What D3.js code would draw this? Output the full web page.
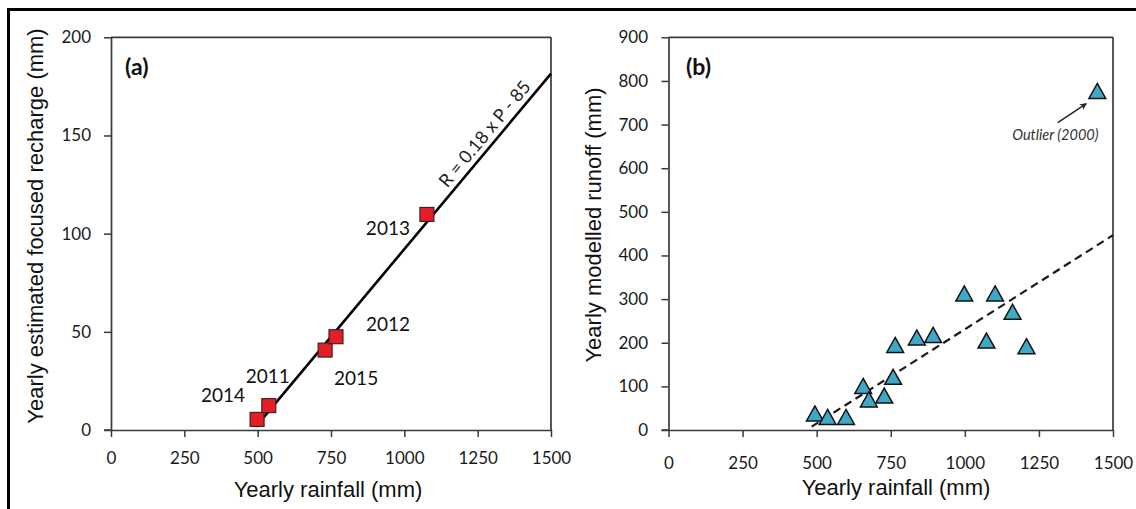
<!DOCTYPE html>
<html>
<head>
<meta charset="utf-8">
<script src="https://cdn.jsdelivr.net/npm/d3@7"></script>
<style>
  html, body { margin: 0; padding: 0; background: #fff; }
  svg { display: block; }
</style>
</head>
<body>
<div id="chart"></div>
<script>
// ---------- Data: panel (a) ----------
const yearsA = ["2014", "2011", "2015", "2012", "2013"];
const rainfallA = [498, 538, 730, 767, 1077];
const rechargeA = [5.4, 12.4, 40.7, 47.5, 109.8];
const fitLineRainA = [494, 1500];
const fitLineRechargeA = [1.7, 181.5];
const equationA = "R = 0.18 x P - 85";

// ---------- Data: panel (b) ----------
const rainfallB = [494, 537, 599, 657, 676, 728, 758, 765, 838, 893, 998, 1073, 1102, 1161, 1208, 1447];
const runoffB   = [38, 30, 30, 101, 70, 79, 122, 195, 212, 218, 313, 205, 313, 271, 192, 777];
const fitLineRainB = [483, 1500];
const fitLineRunoffB = [7.6, 446.6];
const outlierLabel = "Outlier (2000)";

// ---------- Tick labels ----------
const xTicks = [0, 250, 500, 750, 1000, 1250, 1500];
const yTicksA = [0, 50, 100, 150, 200];
const yTicksB = [0, 100, 200, 300, 400, 500, 600, 700, 800, 900];

// ---------- Styling (not data) ----------
const labelOffsetsA = { "2014": [-34, -24], "2011": [-1, -29], "2015": [31, 28], "2012": [52, -13], "2013": [-39, 14] };
const tickFont = "Lato, 'Open Sans', sans-serif";
const titleFont = "'Liberation Sans', Arial, sans-serif";
const axisColor = "#3a3a3a";

const W = 1136, H = 509;
const svg = d3.select("#chart").append("svg").attr("width", W).attr("height", H);

svg.append("defs").append("marker")
  .attr("id", "arrow").attr("viewBox", "0 0 10 10").attr("refX", 9).attr("refY", 5)
  .attr("markerWidth", 7).attr("markerHeight", 7).attr("orient", "auto-start-reverse")
  .attr("markerUnits", "userSpaceOnUse")
  .append("path").attr("d", "M0,0 L10,5 L0,10 L3,5 Z").attr("fill", "#222");

// Outer frame
svg.append("rect").attr("x", 8.5).attr("y", 9.5).attr("width", 1140).attr("height", 520)
  .attr("fill", "none").attr("stroke", "#000").attr("stroke-width", 3);

function drawFrame(g, x, y, xPad, yPad) {
  const [x0, x1] = x.range();
  const [y0, y1] = y.range();
  const xAxis = g.append("g").attr("transform", `translate(0,${y0})`)
    .call(d3.axisBottom(x).tickValues(xTicks).tickSize(7).tickSizeOuter(0).tickPadding(xPad).tickFormat(d3.format("d")));
  const yAxis = g.append("g").attr("transform", `translate(${x0},0)`)
    .call(d3.axisLeft(y).tickValues(y.ticksList).tickSize(7).tickSizeOuter(0).tickPadding(yPad).tickFormat(d3.format("d")));
  [xAxis, yAxis].forEach(a => {
    a.select(".domain").attr("stroke", axisColor).attr("stroke-width", 1.7);
    a.selectAll(".tick line").attr("stroke", axisColor).attr("stroke-width", 1.5);
    a.selectAll(".tick text").attr("font-family", tickFont).attr("font-size", 17).attr("fill", "#1a1a1a");
  });
  g.append("line").attr("x1", x0).attr("x2", x1).attr("y1", y1).attr("y2", y1)
    .attr("stroke", axisColor).attr("stroke-width", 1.7);
  g.append("line").attr("x1", x1).attr("x2", x1).attr("y1", y1).attr("y2", y0)
    .attr("stroke", axisColor).attr("stroke-width", 1.7);
  g.append("line").attr("x1", x0 - 7).attr("x2", x0).attr("y1", y0).attr("y2", y0)
    .attr("stroke", axisColor).attr("stroke-width", 1.5);
}

// ================= Panel (a) =================
const gA = svg.append("g");
const xA = d3.scaleLinear().domain([0, 1500]).range([111, 551]);
const yA = d3.scaleLinear().domain([0, 200]).range([430, 37.3]);
yA.ticksList = yTicksA;
drawFrame(gA, xA, yA, 15, 13);

gA.append("text").attr("x", 125).attr("y", 75).text("(a)")
  .attr("font-family", tickFont).attr("font-weight", "bold").attr("font-size", 23).attr("fill", "#111");

gA.append("text").attr("x", 328).attr("y", 497)
  .attr("text-anchor", "middle").attr("font-family", titleFont).attr("font-size", 22).attr("fill", "#111")
  .text("Yearly rainfall (mm)");
gA.append("text").attr("transform", `translate(43,${226}) rotate(-90)`)
  .attr("text-anchor", "middle").attr("font-family", titleFont).attr("font-size", 22).attr("fill", "#111")
  .text("Yearly estimated focused recharge (mm)");

const lineGen = (x, y) => d3.line().x(d => x(d[0])).y(d => y(d[1]));
const fitA = d3.zip(fitLineRainA, fitLineRechargeA);
gA.append("path").datum(fitA).attr("d", lineGen(xA, yA))
  .attr("fill", "none").attr("stroke", "#000").attr("stroke-width", 2.6);

{
  const p1 = [xA(fitLineRainA[0]), yA(fitLineRechargeA[0])];
  const p2 = [xA(fitLineRainA[1]), yA(fitLineRechargeA[1])];
  const ang = Math.atan2(p2[1] - p1[1], p2[0] - p1[0]) * 180 / Math.PI;
  const t = (1306 - fitLineRainA[0]) / (fitLineRainA[1] - fitLineRainA[0]);
  const px = p1[0] + t * (p2[0] - p1[0]);
  const py = p1[1] + t * (p2[1] - p1[1]);
  gA.append("text").attr("transform", `translate(${px},${py}) rotate(${ang})`)
    .attr("y", -6).attr("text-anchor", "middle")
    .attr("font-family", tickFont).attr("font-size", 18).attr("fill", "#222")
    .text(equationA);
}

const ptsA = yearsA.map((yr, i) => ({ yr, x: rainfallA[i], y: rechargeA[i] }));
gA.selectAll("rect.pt").data(ptsA).join("rect").attr("class", "pt")
  .attr("x", d => xA(d.x) - 7).attr("y", d => yA(d.y) - 7)
  .attr("width", 14).attr("height", 14)
  .attr("fill", "#e31e26").attr("stroke", "#3b1a1a").attr("stroke-width", 1.1);

gA.selectAll("text.yr").data(ptsA).join("text").attr("class", "yr")
  .attr("x", d => xA(d.x) + labelOffsetsA[d.yr][0])
  .attr("y", d => yA(d.y) + labelOffsetsA[d.yr][1])
  .attr("dy", "0.36em").attr("text-anchor", "middle")
  .attr("font-family", tickFont).attr("font-size", 19).attr("fill", "#111")
  .text(d => d.yr);

// ================= Panel (b) =================
const gB = svg.append("g");
const xB = d3.scaleLinear().domain([0, 1500]).range([668.5, 1113]);
const yB = d3.scaleLinear().domain([0, 900]).range([430, 37.3]);
yB.ticksList = yTicksB;
drawFrame(gB, xB, yB, 19.5, 13.5);

gB.append("text").attr("x", 686).attr("y", 75).text("(b)")
  .attr("font-family", tickFont).attr("font-weight", "bold").attr("font-size", 23).attr("fill", "#111");

gB.append("text").attr("x", 896).attr("y", 495)
  .attr("text-anchor", "middle").attr("font-family", titleFont).attr("font-size", 22).attr("fill", "#111")
  .text("Yearly rainfall (mm)");
gB.append("text").attr("transform", `translate(601,${225}) rotate(-90)`)
  .attr("text-anchor", "middle").attr("font-family", titleFont).attr("font-size", 22).attr("fill", "#111")
  .text("Yearly modelled runoff (mm)");

const fitB = d3.zip(fitLineRainB, fitLineRunoffB);
gB.append("path").datum(fitB).attr("d", lineGen(xB, yB))
  .attr("fill", "none").attr("stroke", "#1a1a1a").attr("stroke-width", 2.2)
  .attr("stroke-dasharray", "8,5");

const ptsB = rainfallB.map((r, i) => ({ x: r, y: runoffB[i] }));
gB.selectAll("path.tri").data(ptsB).join("path").attr("class", "tri")
  .attr("transform", d => `translate(${xB(d.x)},${yB(d.y)})`)
  .attr("d", "M0,-7.5 L8.4,7.5 L-8.4,7.5 Z")
  .attr("fill", "#3fa8c6").attr("stroke", "#111").attr("stroke-width", 1.5).attr("stroke-linejoin", "miter");

{
  const o = ptsB[ptsB.length - 1];
  const ox = xB(o.x), oy = yB(o.y);
  gB.append("line").attr("x1", ox - 39.5).attr("y1", oy + 31.6).attr("x2", ox - 11).attr("y2", oy + 12.6)
    .attr("stroke", "#222").attr("stroke-width", 1.5).attr("marker-end", "url(#arrow)");
  gB.append("text").attr("x", ox - 42).attr("y", oy + 44.3).attr("dy", "0.35em")
    .attr("text-anchor", "middle").attr("font-family", tickFont).attr("font-style", "italic")
    .attr("font-size", 14.5).attr("fill", "#333").text(outlierLabel);
}
</script>
</body>
</html>
